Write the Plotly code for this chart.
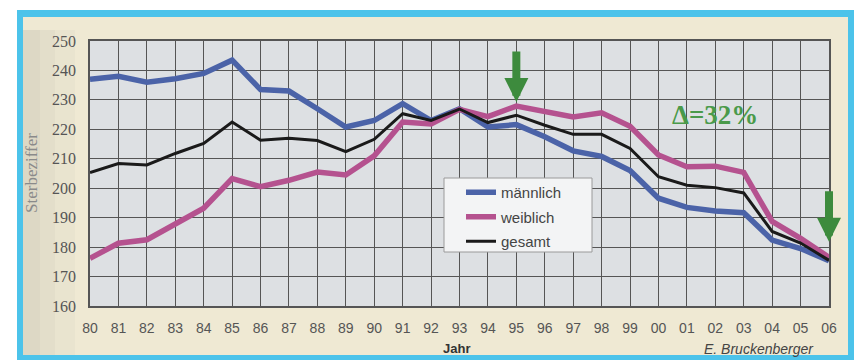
import plotly.graph_objects as go

years = list(range(1980, 2007))
year_labels = ["80", "81", "82", "83", "84", "85", "86", "87", "88", "89", "90", "91", "92",
               "93", "94", "95", "96", "97", "98", "99", "00", "01", "02", "03", "04", "05", "06"]
maennlich = [237, 238, 236, 237.2, 239, 243.5, 233.5, 233, 227, 220.8, 223, 228.7, 223,
             227, 220.8, 221.6, 217.5, 212.7, 210.8, 206, 196.6, 193.5, 192.3, 191.7, 182.4, 179.5, 175.4]
weiblich = [176.2, 181.3, 182.5, 188, 193.2, 203.3, 200.5, 202.7, 205.5, 204.5, 211, 222.5, 221.8,
            226.8, 224.3, 227.9, 226.2, 224.2, 225.6, 221, 211.3, 207.3, 207.5, 205.4, 188.7, 183, 176.5]
gesamt = [205.3, 208.4, 207.9, 211.8, 215.2, 222.5, 216.3, 217, 216.2, 212.4, 216.6, 225.3, 223,
          226.9, 222.3, 224.8, 221.4, 218.3, 218.3, 213.5, 203.9, 201, 200.2, 198.4, 185.3, 181.4, 175.5]
y_ticks = [160, 170, 180, 190, 200, 210, 220, 230, 240, 250]
y_range = [160, 250]

W, H = 863, 360
L, R, T, B = 90, 34, 41, 54
PW, PH = W - L - R, H - T - B


def px(x):
    return (x - L) / PW


def py(y):
    return (H - B - y) / PH


def year_paper(yr):
    return (yr - years[0]) / (years[-1] - years[0])


def val_paper(v):
    return (v - y_range[0]) / (y_range[1] - y_range[0])


fig = go.Figure()
fig.add_trace(go.Scatter(x=years, y=maennlich, mode="lines", name="männlich",
                         line=dict(color="#4b63a8", width=5.5), legendgroup="m"))
fig.add_trace(go.Scatter(x=years, y=weiblich, mode="lines", name="weiblich",
                         line=dict(color="#b5528f", width=5.5), legendgroup="w"))
fig.add_trace(go.Scatter(x=years, y=gesamt, mode="lines", name="gesamt",
                         line=dict(color="#1a1a1a", width=3), legendgroup="g"))

shapes = [
    dict(type="rect", xref="paper", yref="paper", x0=px(17), x1=px(854), y0=py(362), y1=py(10),
         fillcolor="#4cc3ea", line=dict(width=0), layer="below"),
    dict(type="rect", xref="paper", yref="paper", x0=px(23), x1=px(848), y0=py(355), y1=py(17),
         fillcolor="#efe9d3", line=dict(width=0), layer="below"),
]
# soft grey shading on the left edge of the frame
for x_right, op in [(75, 0.05), (55, 0.06), (40, 0.07)]:
    shapes.append(dict(type="rect", xref="paper", yref="paper", x0=px(23), x1=px(x_right),
                       y0=py(355), y1=py(30), fillcolor="#8a8a8a", opacity=op,
                       line=dict(width=0), layer="below"))
shapes += [
    dict(type="rect", xref="paper", yref="paper", x0=0, x1=1, y0=0, y1=1,
         fillcolor="#dde0e3", line=dict(width=0), layer="below"),
    dict(type="rect", xref="paper", yref="paper", x0=px(444), x1=px(592), y0=py(252), y1=py(178),
         fillcolor="#f3f4f5", line=dict(color="#9a9a9a", width=1), layer="above"),
]

annotations = [
    dict(xref="paper", yref="paper", x=px(31), y=py(173), text="Sterbeziffer", textangle=-90,
         xanchor="center", yanchor="middle",
         showarrow=False, font=dict(family="Liberation Serif", size=17, color="#8a8a8a")),
    dict(xref="paper", yref="paper", x=px(456), y=py(348), text="<b>Jahr</b>",
         xanchor="center", yanchor="middle",
         showarrow=False, font=dict(family="Liberation Sans", size=13, color="#333")),
    dict(xref="paper", yref="paper", x=px(759), y=py(349), text="<i>E. Bruckenberger</i>",
         xanchor="center", yanchor="middle",
         showarrow=False, font=dict(family="Liberation Sans", size=14, color="#444")),
    dict(x=2002.0, y=224.9, text="<b>Δ=32%</b>", showarrow=False,
         xanchor="center", yanchor="middle",
         font=dict(family="Liberation Serif", size=27, color="#4a9a4a")),
    dict(xref="paper", yref="paper", x=year_paper(1995), y=val_paper(229.3), ax=0, ay=-52,
         text="", showarrow=True, arrowhead=2,
         arrowwidth=8, arrowsize=0.6, arrowcolor="#3d8b3d"),
    dict(xref="paper", yref="paper", x=year_paper(2006), y=val_paper(181.8), ax=0, ay=-52,
         text="", showarrow=True, arrowhead=2,
         arrowwidth=8, arrowsize=0.6, arrowcolor="#3d8b3d"),
]

fig.update_layout(
    width=W, height=H,
    margin=dict(l=L, r=R, t=T, b=B, pad=0),
    paper_bgcolor="white",
    plot_bgcolor="rgba(0,0,0,0)",
    shapes=shapes,
    annotations=annotations,
    showlegend=True,
    legend=dict(x=px(461), y=py(176), xanchor="left", yanchor="top",
                bgcolor="rgba(0,0,0,0)", borderwidth=0, tracegroupgap=2,
                font=dict(family="Liberation Sans", size=15, color="#444")),
)
fig.update_xaxes(range=[years[0], years[-1]], tickvals=years, ticktext=year_labels,
                 showgrid=True, gridcolor="#555", gridwidth=1.2,
                 showline=True, linecolor="#555", linewidth=1.5, mirror=True,
                 ticks="", ticklabelstandoff=8,
                 tickfont=dict(family="Liberation Sans", size=14, color="#555"), zeroline=False)
fig.update_yaxes(range=y_range, tickvals=y_ticks,
                 showgrid=True, gridcolor="#555", gridwidth=1.2,
                 showline=True, linecolor="#555", linewidth=1.5, mirror=True,
                 ticks="", ticklabelstandoff=9,
                 tickfont=dict(family="Liberation Serif", size=16, color="#555"), zeroline=False)

fig.write_html("out.html", config={"displayModeBar": False},
               post_script="document.body.style.margin='0px';")
